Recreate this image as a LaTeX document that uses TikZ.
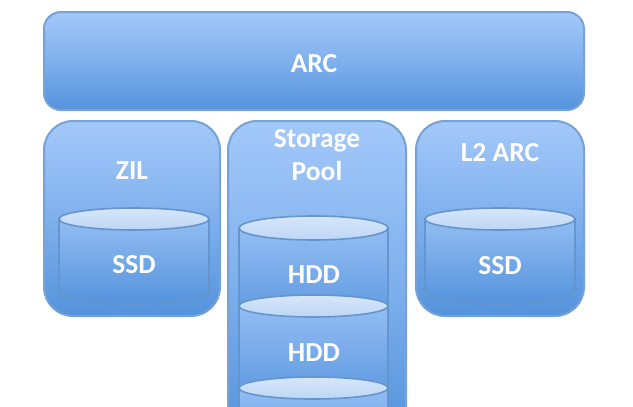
\documentclass[tikz,border=0pt]{standalone}
\usepackage{fontspec}
\setmainfont{Carlito}
\definecolor{edgeblue}{RGB}{118,162,214}
\definecolor{topblue}{RGB}{163,200,250}
\definecolor{botblue}{RGB}{84,147,220}
\definecolor{captop}{RGB}{214,230,250}
\definecolor{capbot}{RGB}{190,214,245}
\definecolor{cylrim}{RGB}{100,150,205}
\tikzset{
  x=1pt,y=-1pt,
  panel/.style={draw=edgeblue,line width=2pt,top color=topblue,bottom color=botblue,middle color=topblue!55!botblue},
  cylside/.style={draw=cylrim,line width=1.6pt,top color=topblue!80!botblue,bottom color=botblue},
  capfill/.style={draw=cylrim,line width=1.6pt,top color=captop,bottom color=capbot},
  label/.style={text=white,font=\fontsize{27.5}{27.5}\selectfont\bfseries,align=center,inner sep=0pt,yshift=-1pt},
}
% #1 cx, #2 half width, #3 top centre y, #4 bottom y (of side), #5 ry
\newcommand{\cylbody}[5]{%
  \path[cylside]
    (#1-#2,#3) -- (#1-#2,#4) arc[start angle=180,end angle=360,x radius=#2pt,y radius=#5pt] -- (#1+#2,#3) -- cycle;
}
\newcommand{\cylcap}[4]{%
  \path[capfill] (#1,#3) ellipse[x radius=#2,y radius=#4];
}
\begin{document}
\begin{tikzpicture}
\useasboundingbox (0,0) rectangle (633,407);
\clip (0,0) rectangle (633,407);
\path[fill=white] (0,0) rectangle (633,407);
% ARC
\path[panel,rounded corners=17pt] (44,12) rectangle (584,110);
\node[label] (arc) at (314,63) {ARC};
% ZIL
\path[panel,rounded corners=29pt] (44,121) rectangle (220,316);
\node[label] (zil) at (132,170) {ZIL};
\cylbody{134}{75}{219}{291}{13}
\cylcap{134}{75}{219}{11}
\node[label] (ssda) at (134,264) {SSD};
% Pool
\path[panel,rounded corners=29pt] (228,121) rectangle (406,440);
\node[label] (pool) at (317,154) {Storage\\[6pt]Pool};
\cylbody{313.5}{74.5}{228}{320}{12}
\cylcap{313.5}{74.5}{228}{12}
\node[label] (hdda) at (314,274) {HDD};
\cylbody{313.5}{74.5}{306}{400}{12}
\cylcap{313.5}{74.5}{306}{11}
\node[label] (hddb) at (314,352) {HDD};
\cylbody{313.5}{74.5}{388}{470}{12}
\cylcap{313.5}{74.5}{388}{11}
% L2 ARC
\path[panel,rounded corners=29pt] (416,121) rectangle (584,316);
\node[label] (ltwo) at (500,152) {L2 ARC};
\cylbody{500}{75}{219}{291}{13}
\cylcap{500}{75}{219}{11}
\node[label] (ssdb) at (500,265) {SSD};
\end{tikzpicture}
\end{document}
